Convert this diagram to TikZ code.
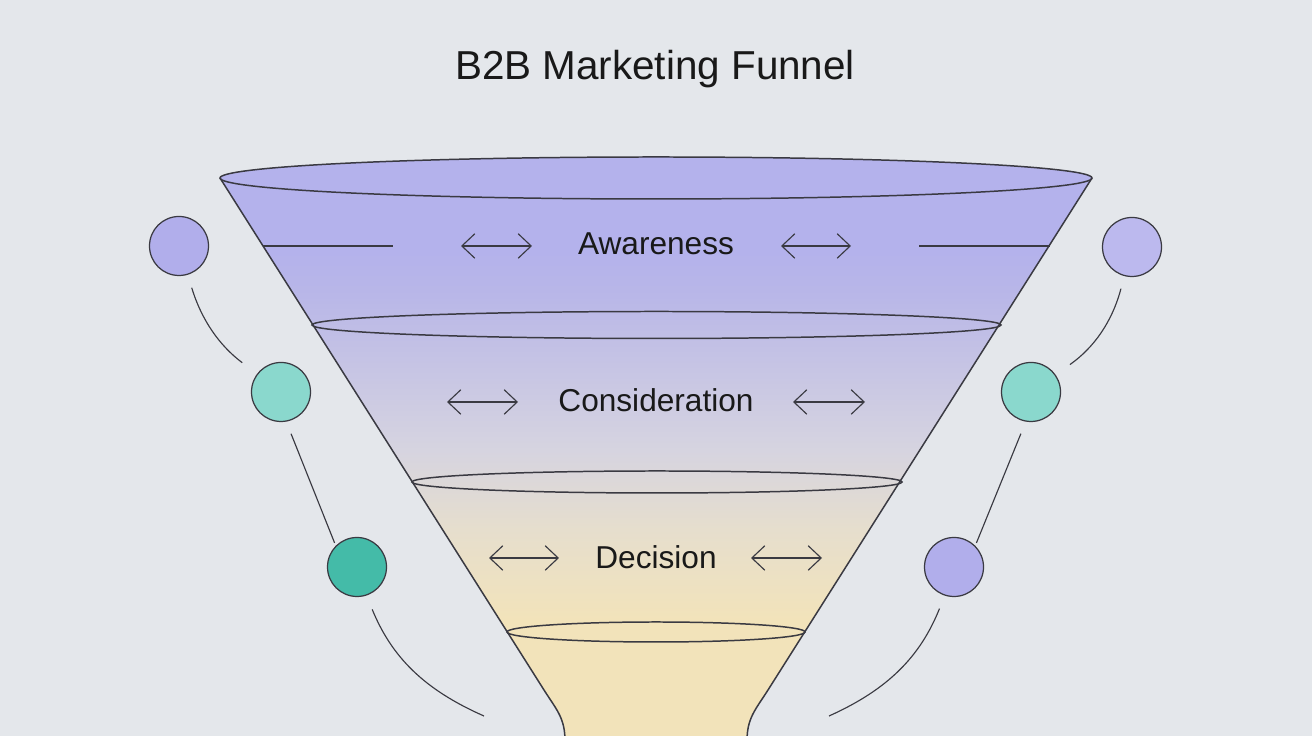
\documentclass[tikz,border=0pt]{standalone}
\usepackage{fontspec}
\setmainfont{Liberation Sans}
\usepackage{xcolor}
\usepackage{tikz}
\usetikzlibrary{arrows.meta,calc}
\definecolor{bgcol}{HTML}{E4E7EB}
\definecolor{edgecol}{HTML}{3A3A42}
\definecolor{funtop}{HTML}{B4B2EC}
\definecolor{funupper}{HTML}{B8B6E8}
\definecolor{funmid}{HTML}{D6D4E0}
\definecolor{funlow}{HTML}{E6DECD}
\definecolor{funbot}{HTML}{F2E3BA}
\definecolor{lav}{HTML}{B1AEEB}
\definecolor{lavlt}{HTML}{BCB9EE}
\definecolor{tealLt}{HTML}{8AD8CD}
\definecolor{tealDk}{HTML}{44BBA8}
\pgfdeclareverticalshading{funnelshade}{100bp}{%
  color(0bp)=(funbot); color(35.4bp)=(funbot); color(43.1bp)=(funlow);
  color(49.9bp)=(funmid); color(63.6bp)=(funupper); color(67bp)=(funtop);
  color(100bp)=(funtop)}

\begin{document}
\begin{tikzpicture}[
  x=0.2mm, y=0.2mm,
  every node/.style={text=black!90},
  edge/.style={draw=edgecol, line width=0.85pt},
  link/.style={draw=edgecol, line width=0.65pt},
  dot/.style={circle, draw=edgecol, line width=0.7pt,
              minimum size=11.8mm, inner sep=0pt},
  dbl/.style={{Straight Barb[length=2.6mm,width=4.9mm]}-{Straight Barb[length=2.6mm,width=4.9mm]},
              draw=edgecol, line width=0.65pt},
  stage/.style={anchor=base, font=\fontsize{18}{22}\selectfont},
]

%% ── Canvas ─────────────────────────────────────────────────────────────
\fill[bgcol] (0,0) rectangle (1312,736);
\useasboundingbox (0,0) rectangle (1312,736);

%% ── Title ──────────────────────────────────────────────────────────────
\node[anchor=base, font=\fontsize{23}{28}\selectfont] (title) at (655,656)
  {B2B Marketing Funnel};

%% ── Funnel body ────────────────────────────────────────────────────────
\coordinate (tl) at (220,558);
\coordinate (tr) at (1092,558);
\begin{scope}
  \clip (tl) arc[start angle=180, end angle=0, x radius=436, y radius=21]
    -- (768,46) .. controls (755.3,26) and (747,18) .. (747,-5)
    -- (565,-5) .. controls (565,18) and (556.7,26) .. (544,46) -- cycle;
  \shade[shading=funnelshade] (220,-5) rectangle (1092,579);
\end{scope}
\draw[edge] (tl) -- (544,46) .. controls (556.7,26) and (565,18) .. (565,-5);
\draw[edge] (tr) -- (768,46) .. controls (755.3,26) and (747,18) .. (747,-5);

%% ── Stage rims ─────────────────────────────────────────────────────────
\draw[edge] (656,558) ellipse [x radius=436, y radius=21];
\draw[edge] (656.5,411) ellipse [x radius=344.5, y radius=13.5];
\draw[edge] (657,254) ellipse [x radius=245, y radius=11];
\draw[edge] (656,104) ellipse [x radius=149, y radius=10];

%% ── Stage labels ───────────────────────────────────────────────────────
\node[stage] (aware)  at (656,481) {Awareness};
\node[stage] (consid) at (656,324) {Consideration};
\node[stage] (decide) at (656,167) {Decision};

%% ── Side ticks in awareness band ───────────────────────────────────────
\coordinate (awL1) at (263,490);
\coordinate (awL2) at (393,490);
\coordinate (awR1) at (919,490);
\coordinate (awR2) at (1050,490);
\draw[link] (awL1) -- (awL2);
\draw[link] (awR1) -- (awR2);

%% ── Double arrows ──────────────────────────────────────────────────────
\foreach \y/\a/\b/\c/\d in {490/461/532/781/851,
                            334/447/518/793/865,
                            178/489/559/751/822} {
  \draw[dbl] (\a,\y) -- (\b,\y);
  \draw[dbl] (\c,\y) -- (\d,\y);
}

%% ── Side circles ───────────────────────────────────────────────────────
\node[dot, fill=lav]    (cL1) at (179,490) {};
\node[dot, fill=tealLt] (cL2) at (281,344) {};
\node[dot, fill=tealDk] (cL3) at (357,169) {};
\node[dot, fill=lavlt]  (cR1) at (1132,489) {};
\node[dot, fill=tealLt] (cR2) at (1031,344) {};
\node[dot, fill=lav]    (cR3) at (954,169) {};
\coordinate (lEnd) at (484,20);
\coordinate (rEnd) at (829,20);

%% ── Circle links ───────────────────────────────────────────────────────
\draw[link, shorten <=2.7mm, shorten >=3.7mm] (cL1) to[bend right=18] (cL2);
\draw[link, shorten <=2.6mm, shorten >=0.6mm] (cL2.-80) -- (cL3.135);
\draw[link, shorten <=3mm] (cL3) to[bend right=22] (lEnd);
\draw[link, shorten <=2.6mm, shorten >=3.5mm] (cR1) to[bend left=20] (cR2);
\draw[link, shorten <=2.6mm, shorten >=0.6mm] (cR2.-100) -- (cR3.45);
\draw[link, shorten <=2.8mm] (cR3) to[bend left=22] (rEnd);

\end{tikzpicture}
\end{document}
